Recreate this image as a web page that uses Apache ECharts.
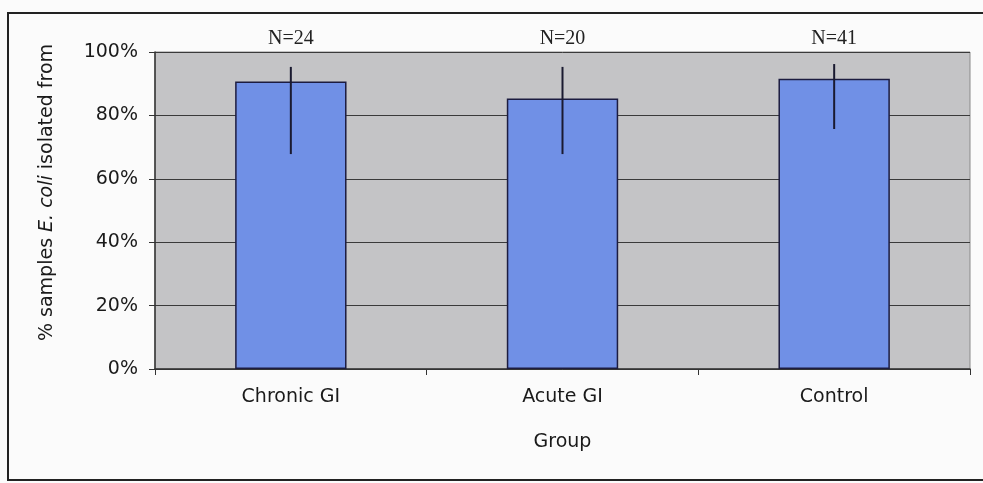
<!DOCTYPE html>
<html lang="en">
<head>
    <meta charset="utf-8">
    <title>% samples E. coli isolated from, by group</title>
    <script src="https://cdn.jsdelivr.net/npm/echarts@6/dist/echarts.min.js"></script>
    <style>
        html, body { margin: 0; padding: 0; background: #fbfbfb; }
        #chart { width: 983px; height: 483px; }
    </style>
</head>
<body>
    <div id="chart"></div>
    <script type="text/javascript">
        // data (percent)
        var groups = ["Chronic GI", "Acute GI", "Control"];
        var nLabels = ["N=24", "N=20", "N=41"];
        var percent = [90.7, 85.3, 91.6];
        var errLow = [67.8, 67.8, 75.7];
        var errHigh = [95.3, 95.3, 96.2];
        var yTicks = [0, 20, 40, 60, 80, 100];

        var txt = "#1a1a1a";
        var sans = "DejaVu Sans";

        var errData = groups.map(function (g, i) { return [i, errLow[i], errHigh[i]]; });

        var chart = echarts.init(document.getElementById("chart"));
        var option = {
            backgroundColor: "#fbfbfb",
            animation: false,
            grid: {
                left: 155, right: 13, top: 52, bottom: 114,
                show: true,
                backgroundColor: "#c4c4c6",
                borderColor: "#8a8a8a",
                borderWidth: 1
            },
            graphic: [{
                type: "rect",
                shape: { x: 8, y: 13, width: 990, height: 467 },
                style: { fill: "none", stroke: "#222", lineWidth: 2 },
                silent: true
            }],
            xAxis: [{
                type: "category",
                data: groups,
                name: "Group",
                nameLocation: "middle",
                nameGap: 64,
                nameTextStyle: { fontFamily: sans, fontSize: 19, color: txt },
                axisLine: { lineStyle: { color: "#333", width: 1.5 } },
                axisTick: { show: true, length: 6, lineStyle: { color: "#333" } },
                axisLabel: { margin: 19, fontFamily: sans, fontSize: 19, color: txt },
                splitLine: { show: false }
            }, {
                type: "category",
                position: "top",
                data: nLabels,
                axisLine: { show: false },
                axisTick: { show: false },
                axisLabel: { margin: 3, fontFamily: "Liberation Serif", fontSize: 20, color: "#222" },
                splitLine: { show: false }
            }],
            yAxis: {
                type: "value",
                min: yTicks[0],
                max: yTicks[yTicks.length - 1],
                interval: 20,
                name: "% samples {i|E. coli} isolated from",
                nameLocation: "middle",
                nameRotate: 90,
                nameGap: 98,
                nameTextStyle: {
                    fontFamily: sans, fontSize: 19, color: txt,
                    padding: [0, 0, 0, 36],
                    rich: { i: { fontFamily: sans, fontSize: 19, fontStyle: "italic", color: txt } }
                },
                axisLine: { show: true, lineStyle: { color: "#333", width: 1.5 } },
                axisTick: { show: true, length: 6, lineStyle: { color: "#333" } },
                axisLabel: {
                    margin: 17, fontFamily: sans, fontSize: 19, color: txt,
                    formatter: function (v) { return v + "%"; }
                },
                splitLine: { show: true, lineStyle: { color: "#3a3a3a", width: 1 } }
            },
            series: [{
                name: "percent",
                type: "bar",
                data: percent,
                barWidth: "41%",
                itemStyle: { color: "#7090e6", borderColor: "#1c1c40", borderWidth: 1.5 },
                z: 2
            }, {
                name: "error",
                type: "custom",
                data: errData,
                z: 3,
                renderItem: function (params, api) {
                    var lo = api.coord([api.value(0), api.value(1)]);
                    var hi = api.coord([api.value(0), api.value(2)]);
                    return {
                        type: "line",
                        shape: { x1: lo[0], y1: lo[1], x2: hi[0], y2: hi[1] },
                        style: { stroke: "#1a1a30", lineWidth: 2 }
                    };
                }
            }]
        };
        chart.setOption(option);
    </script>
</body>
</html>
